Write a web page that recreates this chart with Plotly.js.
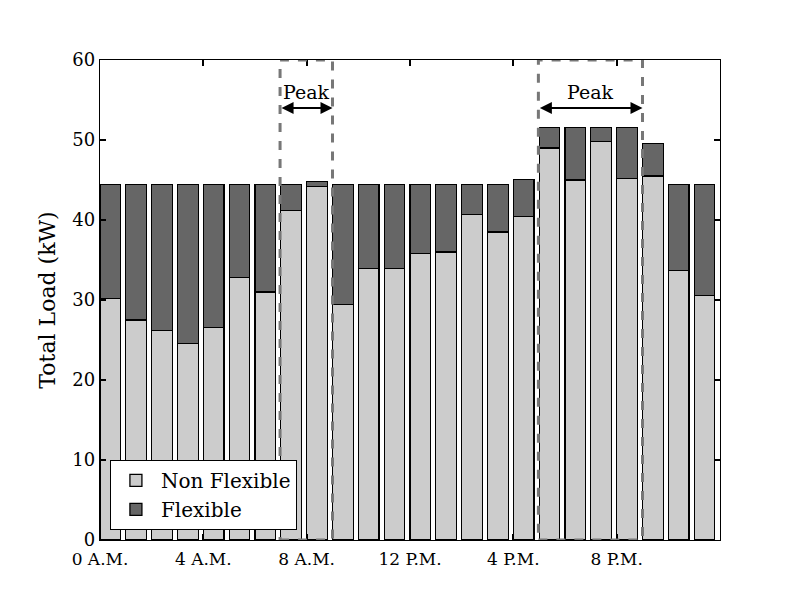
<!DOCTYPE html>
<html>
<head>
<meta charset="utf-8">
<script src="https://cdn.plot.ly/plotly-3.0.1.min.js"></script>
<style>
  body { margin: 0; background: #fff; }
  #chart { width: 800px; height: 600px; }
</style>
</head>
<body>
<div id="chart"></div>
<script>
// hourly load
const hours = [0, 1, 2, 3, 4, 5, 6, 7, 8, 9, 10, 11, 12, 13, 14, 15, 16, 17, 18, 19, 20, 21, 22, 23];
const nonFlexible = [30.2, 27.5, 26.2, 24.6, 26.6, 32.8, 31.0, 41.2, 44.2, 29.4, 33.9, 33.9,
                     35.8, 36.0, 40.7, 38.5, 40.4, 49.0, 45.0, 49.8, 45.2, 45.5, 33.7, 30.6];
const totalLoad = [44.4, 44.4, 44.4, 44.4, 44.4, 44.4, 44.4, 44.4, 44.8, 44.4, 44.4, 44.4,
                   44.4, 44.4, 44.4, 44.4, 45.1, 51.6, 51.6, 51.6, 51.6, 49.6, 44.4, 44.4];
const flexible = totalLoad.map((t, i) => +(t - nonFlexible[i]).toFixed(2));

const tickVals = [0, 4, 8, 12, 16, 20];
const tickText = ["0 A.M.", "4 A.M.", "8 A.M.", "12 P.M.", "4 P.M.", "8 P.M."];

// peak windows [start, end] in hours
const peaks = [[6.97, 9.0], [16.97, 21.0]];

const font = "DejaVu Serif";

let data = [
    {
        type: "bar",
        name: "Non Flexible",
        x: hours,
        y: nonFlexible,
        width: 0.8,
        offset: 0,
        marker: { color: "#cccccc", line: { color: "#000", width: 1.3 } },
        hoverinfo: "y"
    },
    {
        type: "bar",
        name: "Flexible",
        x: hours,
        y: flexible,
        width: 0.8,
        offset: 0,
        marker: { color: "#666666", line: { color: "#000", width: 1.3 } },
        hoverinfo: "y"
    }
];

let shapes = peaks.map(function (p) {
    return {
        type: "rect", xref: "x", yref: "y",
        x0: p[0], x1: p[1], y0: 0, y1: 60,
        line: { color: "#777777", width: 3, dash: "dash" },
        layer: "above"
    };
});

let annotations = [];
peaks.forEach(function (p) {
    annotations.push({
        xref: "x", yref: "y", axref: "x", ayref: "y",
        x: p[1], y: 54, ax: p[0], ay: 54,
        text: "", showarrow: true,
        arrowhead: 2, arrowside: "end+start", arrowsize: 1.2,
        arrowwidth: 2, arrowcolor: "#000",
        standoff: 0, startstandoff: 0
    });
    annotations.push({
        xref: "x", yref: "y",
        x: (p[0] + p[1]) / 2, y: 56,
        text: "Peak", showarrow: false,
        font: { family: font, size: 19, color: "#000" }
    });
});

let layout = {
    width: 800,
    height: 600,
    margin: { l: 100, r: 80, t: 60, b: 60 },
    paper_bgcolor: "#fff",
    plot_bgcolor: "#fff",
    barmode: "stack",
    showlegend: true,
    font: { family: font, size: 16, color: "#000" },
    xaxis: {
        range: [0, 24],
        tickvals: tickVals,
        ticktext: tickText,
        ticks: "inside",
        ticklen: 6,
        tickwidth: 1.5,
        tickcolor: "#000",
        showline: true,
        linecolor: "#000",
        linewidth: 1.3,
        mirror: "ticks",
        showgrid: false,
        zeroline: false,
        ticklabelstandoff: 3,
        tickfont: { family: font, size: 17 }
    },
    yaxis: {
        range: [0, 60],
        dtick: 10,
        ticks: "inside",
        ticklen: 6,
        tickwidth: 1.5,
        tickcolor: "#000",
        showline: true,
        linecolor: "#000",
        linewidth: 1.3,
        mirror: "ticks",
        showgrid: false,
        zeroline: false,
        tickfont: { family: font, size: 18 },
        title: { text: "Total Load (kW)", font: { family: font, size: 22 }, standoff: 10 }
    },
    legend: {
        x: 0.016, y: 0.167,
        xanchor: "left", yanchor: "top",
        bgcolor: "#fff",
        bordercolor: "#000",
        borderwidth: 1,
        traceorder: "normal",
        itemwidth: 40,
        font: { family: font, size: 20 }
    },
    shapes: shapes,
    annotations: annotations
};

Plotly.newPlot("chart", data, layout, { displayModeBar: false });
</script>
</body>
</html>
